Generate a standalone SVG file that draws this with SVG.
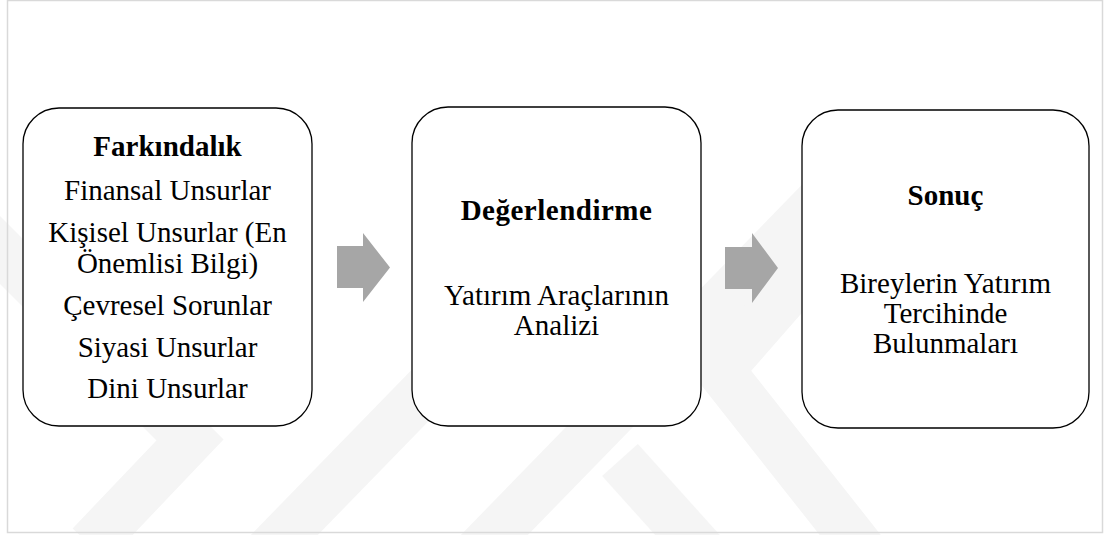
<svg xmlns="http://www.w3.org/2000/svg" width="1105" height="535" viewBox="0 0 1105 535">
  <style>
    .box { fill: #ffffff; stroke: #000000; stroke-width: 1.3; }
    .wm { fill: none; stroke: #f5f5f5; stroke-width: 48; stroke-linejoin: miter; }
    .arrow { fill: #a6a6a6; stroke: none; }
    .t { font-size: 29px; fill: #000000; text-anchor: middle; }
    .b { font-weight: bold; }
  </style>
  <rect x="0" y="0" width="1105" height="535" fill="#ffffff"/>
  <g id="watermark">
    <polyline class="wm" points="-20,230 190,440 90,545"/>
    <polyline class="wm" points="260,560 620,190"/>
    <polyline class="wm" points="470,560 840,180"/>
    <polyline class="wm" points="860,210 720,370 870,560"/>
    <polyline class="wm" points="620,460 710,560"/>
  </g>
  <rect id="frame" x="7.5" y="0.5" width="1095" height="532" fill="none" stroke="#d9d9d9" stroke-width="1.5"/>
  <g id="connectors">
    <polygon class="arrow" points="337,246 363,246 363,233 390,267.5 363,302 363,288 337,288"/>
    <polygon class="arrow" points="725,247 752,247 752,233 778,268 752,303 752,289 725,289"/>
  </g>
  <g font-family="Liberation Serif, Times New Roman, serif">
  <g id="node-farkindalik">
    <rect class="box" x="23" y="108" width="289" height="318" rx="36" ry="36"/>
    <text class="t b" x="167.5" y="156">Farkındalık</text>
    <text class="t" x="167.5" y="200">Finansal Unsurlar</text>
    <text class="t" x="167.5" y="242">Kişisel Unsurlar (En</text>
    <text class="t" x="167.5" y="273">Önemlisi Bilgi)</text>
    <text class="t" x="167.5" y="315">Çevresel Sorunlar</text>
    <text class="t" x="167.5" y="357">Siyasi Unsurlar</text>
    <text class="t" x="167.5" y="398">Dini Unsurlar</text>
  </g>
  <g id="node-degerlendirme">
    <rect class="box" x="412" y="107" width="289" height="319" rx="36" ry="36"/>
    <text class="t b" x="556.5" y="220" letter-spacing="0.5">Değerlendirme</text>
    <text class="t" x="556.5" y="305">Yatırım Araçlarının</text>
    <text class="t" x="556.5" y="335">Analizi</text>
  </g>
  <g id="node-sonuc">
    <rect class="box" x="802" y="110" width="287" height="318" rx="36" ry="36"/>
    <text class="t b" x="945.5" y="205">Sonuç</text>
    <text class="t" x="945.5" y="293">Bireylerin Yatırım</text>
    <text class="t" x="945.5" y="323">Tercihinde</text>
    <text class="t" x="945.5" y="353">Bulunmaları</text>
  </g>
  </g>
</svg>
